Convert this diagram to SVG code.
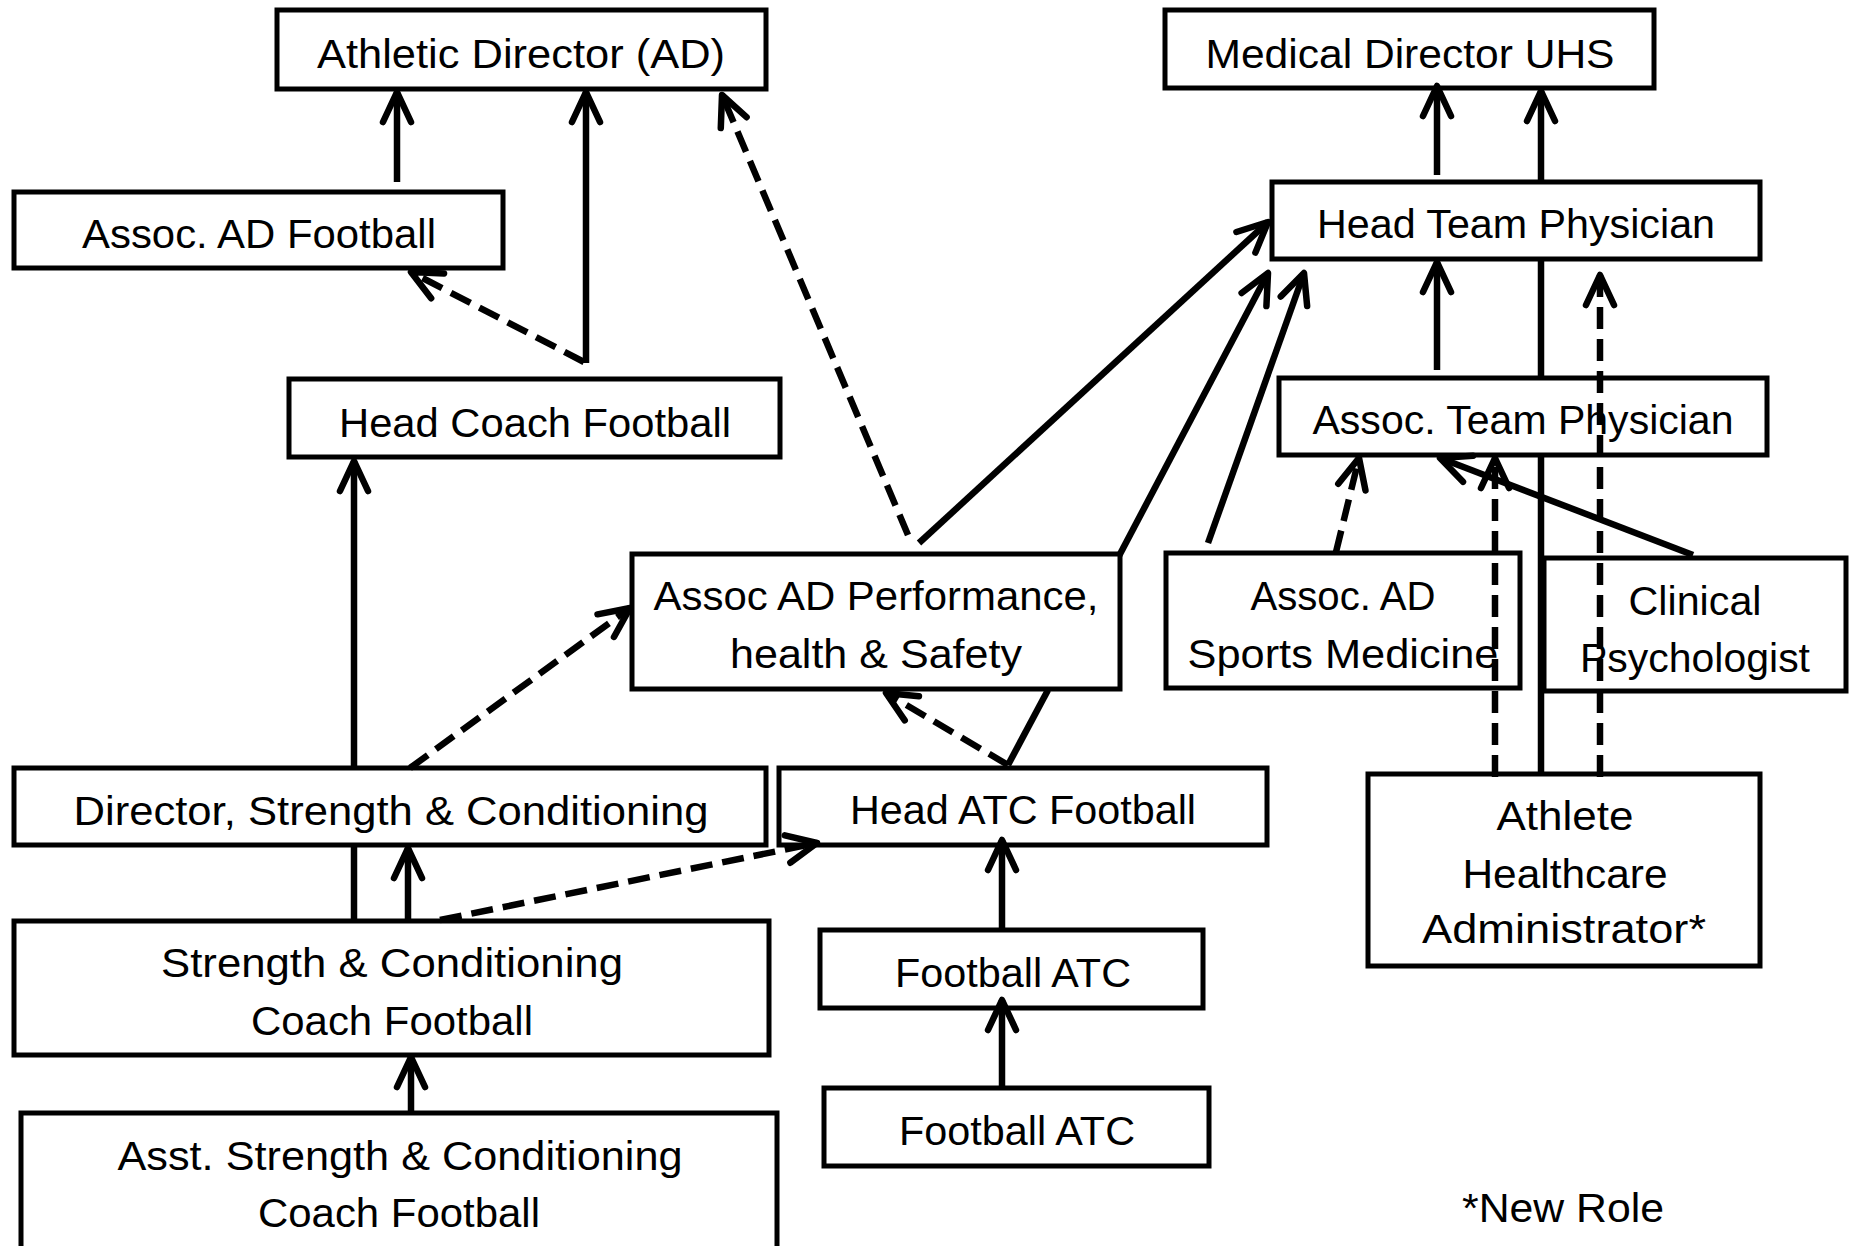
<svg xmlns="http://www.w3.org/2000/svg" width="1854" height="1246" viewBox="0 0 1854 1246">
  <style>
    .box { fill: #fff; stroke: #000; stroke-width: 5; }
    .t { font-family: "Liberation Sans", Arial, sans-serif; font-size: 41px; text-anchor: middle; fill: #000; }
    .c { fill: none; stroke: #000; stroke-width: 6.5; }
    .d { stroke-dasharray: 22 10; }
    .a { marker-end: url(#arr); }
  </style>
  <defs>
    <!-- open chevron arrowhead -->
    <marker id="arr" markerUnits="userSpaceOnUse" orient="auto" overflow="visible" refX="0" refY="0" markerWidth="1" markerHeight="1">
      <path d="M-30,-14 L0,0 L-30,14" fill="none" stroke="#000" stroke-width="6.5" stroke-dasharray="none" stroke-linecap="round" stroke-linejoin="round"/>
    </marker>
  </defs>
  <rect width="1854" height="1246" fill="#fff"/>

  <!-- nodes -->
  <g id="athletic-director">
    <rect class="box" x="277" y="10" width="489" height="79"/>
    <text class="t" x="521" y="68" textLength="408" lengthAdjust="spacingAndGlyphs">Athletic Director (AD)</text>
  </g>
  <g id="medical-director">
    <rect class="box" x="1165" y="10" width="489" height="78"/>
    <text class="t" x="1410" y="68" textLength="409" lengthAdjust="spacingAndGlyphs">Medical Director UHS</text>
  </g>
  <g id="assoc-ad-football">
    <rect class="box" x="14" y="192" width="489" height="76"/>
    <text class="t" x="259" y="248" textLength="354" lengthAdjust="spacingAndGlyphs">Assoc. AD Football</text>
  </g>
  <g id="head-coach">
    <rect class="box" x="289" y="379" width="491" height="78"/>
    <text class="t" x="535" y="437" textLength="392" lengthAdjust="spacingAndGlyphs">Head Coach Football</text>
  </g>
  <g id="head-team-physician">
    <rect class="box" x="1272" y="182" width="488" height="77"/>
    <text class="t" x="1516" y="238" textLength="398" lengthAdjust="spacingAndGlyphs">Head Team Physician</text>
  </g>
  <g id="assoc-team-physician">
    <rect class="box" x="1279" y="378" width="488" height="77"/>
    <text class="t" x="1523" y="434" textLength="421" lengthAdjust="spacingAndGlyphs">Assoc. Team Physician</text>
  </g>
  <g id="assoc-ad-performance">
    <rect class="box" x="632" y="554" width="488" height="135"/>
    <text class="t" x="876" y="610" textLength="445" lengthAdjust="spacingAndGlyphs">Assoc AD Performance,</text>
    <text class="t" x="876" y="668" textLength="292" lengthAdjust="spacingAndGlyphs">health &amp; Safety</text>
  </g>
  <g id="assoc-ad-sports-medicine">
    <rect class="box" x="1166" y="553" width="354" height="135"/>
    <text class="t" x="1343" y="610" textLength="185" lengthAdjust="spacingAndGlyphs">Assoc. AD</text>
    <text class="t" x="1343" y="668" textLength="311" lengthAdjust="spacingAndGlyphs">Sports Medicine</text>
  </g>
  <g id="clinical-psychologist">
    <rect class="box" x="1544" y="558" width="302" height="133"/>
    <text class="t" x="1695" y="615" textLength="133" lengthAdjust="spacingAndGlyphs">Clinical</text>
    <text class="t" x="1695" y="672" textLength="230" lengthAdjust="spacingAndGlyphs">Psychologist</text>
  </g>
  <g id="director-sc">
    <rect class="box" x="14" y="768" width="752" height="77"/>
    <text class="t" x="391" y="825" textLength="635" lengthAdjust="spacingAndGlyphs">Director, Strength &amp; Conditioning</text>
  </g>
  <g id="head-atc">
    <rect class="box" x="779" y="768" width="488" height="77"/>
    <text class="t" x="1023" y="824" textLength="346" lengthAdjust="spacingAndGlyphs">Head ATC Football</text>
  </g>
  <g id="sc-coach">
    <rect class="box" x="14" y="921" width="755" height="134"/>
    <text class="t" x="392" y="977" textLength="462" lengthAdjust="spacingAndGlyphs">Strength &amp; Conditioning</text>
    <text class="t" x="392" y="1035" textLength="282" lengthAdjust="spacingAndGlyphs">Coach Football</text>
  </g>
  <g id="asst-sc-coach">
    <rect class="box" x="21" y="1113" width="756" height="140"/>
    <text class="t" x="400" y="1170" textLength="565" lengthAdjust="spacingAndGlyphs">Asst. Strength &amp; Conditioning</text>
    <text class="t" x="399" y="1227" textLength="282" lengthAdjust="spacingAndGlyphs">Coach Football</text>
  </g>
  <g id="football-atc-1">
    <rect class="box" x="820" y="930" width="383" height="78"/>
    <text class="t" x="1013" y="987" textLength="236" lengthAdjust="spacingAndGlyphs">Football ATC</text>
  </g>
  <g id="football-atc-2">
    <rect class="box" x="824" y="1088" width="385" height="78"/>
    <text class="t" x="1017" y="1145" textLength="236" lengthAdjust="spacingAndGlyphs">Football ATC</text>
  </g>
  <g id="athlete-healthcare-admin">
    <rect class="box" x="1368" y="774" width="392" height="192"/>
    <text class="t" x="1565" y="830" textLength="137" lengthAdjust="spacingAndGlyphs">Athlete</text>
    <text class="t" x="1565" y="888" textLength="205" lengthAdjust="spacingAndGlyphs">Healthcare</text>
    <text class="t" x="1564" y="943" textLength="284" lengthAdjust="spacingAndGlyphs">Administrator*</text>
  </g>
  <g id="legend">
    <text class="t" x="1563" y="1222" textLength="202" lengthAdjust="spacingAndGlyphs">*New Role</text>
  </g>

  <!-- connectors -->
  <g id="connectors">
    <!-- athletics side -->
    <path class="c a" d="M397,182 L397,92"/>
    <path class="c a" d="M586,363 L586,92"/>
    <path class="c d a" d="M584,362 L411,272"/>
    <path class="c d a" d="M908,535 L722,95"/>
    <path class="c a" d="M354,768 L354,461"/>
    <path class="c" d="M354,845 L354,921"/>
    <path class="c a" d="M408,921 L408,848"/>
    <path class="c d a" d="M410,768 L630,608"/>
    <path class="c d a" d="M440,920 L817,843"/>
    <path class="c d a" d="M1008,765 L886,693"/>
    <path class="c a" d="M411,1113 L411,1057"/>
    <path class="c a" d="M1002,930 L1002,840"/>
    <path class="c a" d="M1002,1088 L1002,1000"/>
    <!-- medical side -->
    <path class="c a" d="M919,543 L1268,222"/>
    <path class="c" d="M1008,765 L1048,690"/>
    <path class="c a" d="M1119,556 L1268,273"/>
    <path class="c a" d="M1208,543 L1304,273"/>
    <path class="c d a" d="M1336,552 L1359,458"/>
    <path class="c a" d="M1437,175 L1437,86"/>
    <path class="c a" d="M1437,370 L1437,262"/>
    <path class="c" d="M1541,774 L1541,455 M1541,378 L1541,259"/>
    <path class="c a" d="M1541,182 L1541,91"/>
    <path class="c d a" d="M1495,777 L1495,458"/>
    <path class="c d a" d="M1600,777 L1600,275"/>
    <path class="c a" d="M1693,555 L1440,458"/>
  </g>
</svg>
